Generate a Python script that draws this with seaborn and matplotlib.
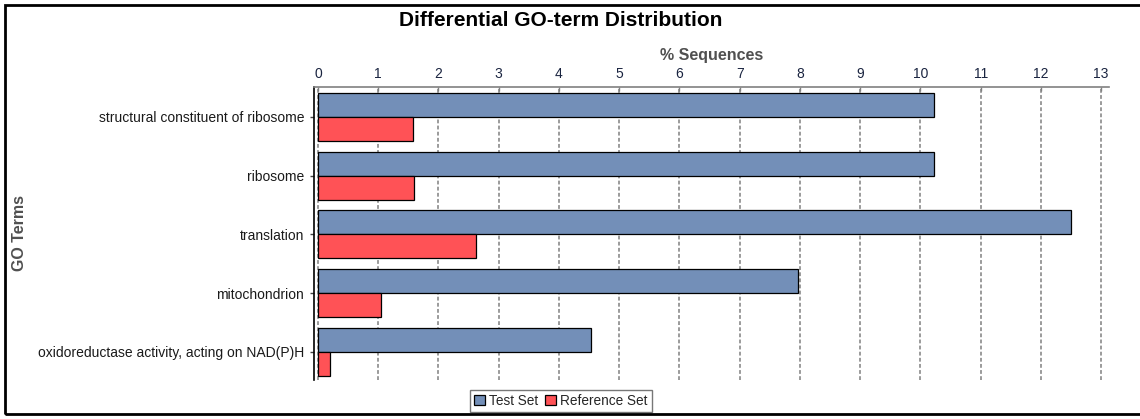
import matplotlib
matplotlib.use("Agg")
import matplotlib.pyplot as plt
from matplotlib.patches import Rectangle, Patch
import pandas as pd
import seaborn as sns

# GO terms and percentage of sequences per set
terms = [
    "structural constituent of ribosome",
    "ribosome",
    "translation",
    "mitochondrion",
    "oxidoreductase activity, acting on NAD(P)H",
]
test_set = [10.23, 10.23, 12.50, 7.96, 4.54]
reference_set = [1.58, 1.59, 2.62, 1.05, 0.20]
set_names = ["Test Set", "Reference Set"]
ticks = list(range(0, 14))

colors = {"Test Set": "#738fb8", "Reference Set": "#ff5256"}

df = pd.DataFrame({
    "term": terms * 2,
    "pct": test_set + reference_set,
    "set": [set_names[0]] * len(terms) + [set_names[1]] * len(terms),
})

sns.set_style("white")
plt.rcParams["font.family"] = ["Liberation Sans", "DejaVu Sans"]

W, H = 1140, 419
fig = plt.figure(figsize=(W / 100, H / 100), dpi=100)
ax = fig.add_axes([314 / W, 1 - 380 / H, (1109 - 314) / W, (380 - 87) / H])

sns.barplot(
    data=df, y="term", x="pct", hue="set", order=terms, hue_order=set_names,
    palette=colors, orient="h", width=0.82, edgecolor="black", linewidth=0.9,
    saturation=1, ax=ax, legend=False, zorder=3,
)

ax.set_xlim(-0.066, 13.13)
ax.set_ylim(4.48, -0.51)
ax.set_xticks(ticks)
ax.set_xticklabels([str(t) for t in ticks])
ax.xaxis.tick_top()
ax.xaxis.set_label_position("top")
ax.grid(axis="x", linestyle=(0, (2.5, 1.5)), color="#808080", linewidth=1.1, zorder=0)
ax.grid(axis="y", visible=False)
ax.set_axisbelow(True)

for s in ["right", "bottom"]:
    ax.spines[s].set_visible(False)
ax.spines["top"].set_color("#808080")
ax.spines["top"].set_linewidth(1.2)
ax.spines["left"].set_color("black")
ax.spines["left"].set_linewidth(1.2)

ax.tick_params(axis="x", direction="in", length=3, width=1, color="#808080",
               labelsize=10, labelcolor="#1a2440", pad=4)
ax.tick_params(axis="y", direction="out", length=3, width=1, color="#444444",
               labelsize=10, labelcolor="#1a1a1a", pad=4, left=True)

ax.set_xlabel("% Sequences", fontsize=11.5, fontweight="bold", color="#505050",
              labelpad=5)
ax.set_ylabel("")
fig.text(20 / W, 1 - 233 / H, "GO Terms", rotation=90, ha="center", va="center",
         fontsize=11.5, fontweight="bold", color="#505050")

fig.text(561 / W, 1 - 20 / H, "Differential GO-term Distribution",
         ha="center", va="center", fontsize=15, fontweight="bold", color="black")

handles = [Patch(facecolor=colors[n], edgecolor="black", linewidth=0.9, label=n)
           for n in set_names]
leg = fig.legend(handles=handles, loc="center", bbox_to_anchor=(561 / W, 1 - 401 / H),
                 ncol=2, frameon=True, fancybox=False, fontsize=9.8,
                 handlelength=0.8, handleheight=0.8, handletextpad=0.3,
                 columnspacing=0.5, borderpad=0.3, borderaxespad=0)
leg.get_frame().set_edgecolor("#555555")
leg.get_frame().set_linewidth(1.0)

# outer frame around the whole figure
fig.patches.append(Rectangle((5 / W, 5 / H), 1.2, 1 - 10 / H, transform=fig.transFigure,
                             fill=False, edgecolor="black", linewidth=2, zorder=10))

fig.savefig("out.png", dpi=100)
